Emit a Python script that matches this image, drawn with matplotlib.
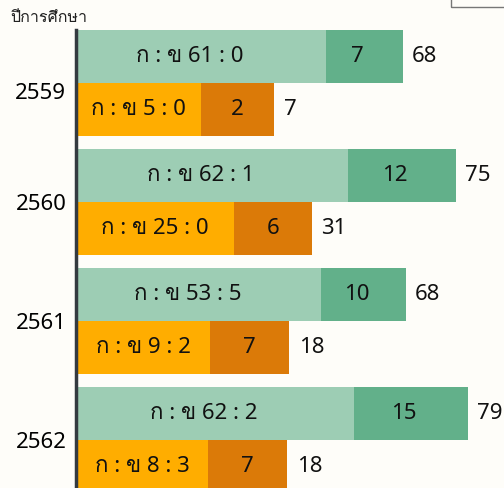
import matplotlib
matplotlib.use("Agg")
import matplotlib.pyplot as plt
from matplotlib.patches import Rectangle
from matplotlib.transforms import ScaledTranslation

# data
years = ["2559", "2560", "2561", "2562"]
green_a = [61, 62, 53, 62]
green_b = [0, 1, 5, 2]
green_extra = [7, 12, 10, 15]
green_total = [68, 75, 68, 79]
orange_a = [5, 25, 9, 8]
orange_b = [0, 0, 2, 3]
orange_extra = [2, 6, 7, 7]
orange_total = [7, 31, 18, 18]

# segment lengths as drawn in the picture (% of plot width)
green_len1 = [58.4, 63.6, 57.2, 65.0]
green_len2 = [18.0, 25.2, 19.9, 26.5]
orange_len1 = [29.2, 36.9, 31.3, 30.8]
orange_len2 = [17.1, 18.2, 18.5, 18.5]

# Noto Sans for latin/digits, Loma for the Thai glyphs
plt.rcParams["font.family"] = ["Noto Sans", "Loma", "DejaVu Sans"]

bg = "#fefdf9"
c_g1, c_g2 = "#9dcdb4", "#62b08a"
c_o1, c_o2 = "#ffad00", "#db7a08"
fs = 16

fig = plt.figure(figsize=(5.04, 4.88), dpi=100, facecolor=bg)
ax = fig.add_axes([76 / 504, 0, 1 - 76 / 504, 1 - 30 / 488])
ax.set_facecolor(bg)

h = 0.445
for i in range(len(years)):
    yg = i - h / 2
    yo = i + h / 2
    ax.barh(yg, green_len1[i], height=h, color=c_g1)
    ax.barh(yg, green_len2[i], left=green_len1[i], height=h, color=c_g2)
    ax.barh(yo, orange_len1[i], height=h, color=c_o1)
    ax.barh(yo, orange_len2[i], left=orange_len1[i], height=h, color=c_o2)

    kw = dict(va="center", ha="center", fontsize=fs, color="#111111")
    ax.annotate(f"ก : ข {green_a[i]} : {green_b[i]}", (green_len1[i] / 2, yg),
                xytext=(-8, 0), textcoords="offset points", **kw)
    ax.annotate(str(green_extra[i]), (green_len1[i] + green_len2[i] / 2, yg),
                xytext=(-5, 0), textcoords="offset points", **kw)
    ax.annotate(f"ก : ข {orange_a[i]} : {orange_b[i]}", (orange_len1[i] / 2, yo), **kw)
    ax.annotate(str(orange_extra[i]), (orange_len1[i] + orange_len2[i] / 2, yo), **kw)
    kw["ha"] = "left"
    ax.annotate(str(green_total[i]), (green_len1[i] + green_len2[i], yg),
                xytext=(6.5, 0), textcoords="offset points", **kw)
    ax.annotate(str(orange_total[i]), (orange_len1[i] + orange_len2[i], yo),
                xytext=(7, 0), textcoords="offset points", **kw)

ax.set_xlim(0, 100)
ax.set_ylim(3.404, -0.445)
ax.set_xticks([])
ax.set_yticks(range(len(years)))
ax.set_yticklabels(years, fontsize=fs)
ax.tick_params(axis="y", length=0, pad=7)
# first year label sits a little lower in the original
lbl = ax.get_yticklabels()[0]
lbl.set_transform(lbl.get_transform() + ScaledTranslation(0, -0.08, fig.dpi_scale_trans))
for s in ["top", "right", "bottom"]:
    ax.spines[s].set_visible(False)
ax.spines["left"].set_color("#343a40")
ax.spines["left"].set_linewidth(2.5)

fig.text(10 / 504, 1 - 18 / 488, "ปีการศึกษา", fontsize=11.5, color="#222222", va="center")
fig.add_artist(Rectangle((451 / 504, 1 - 7 / 488), 0.2, 0.2, transform=fig.transFigure,
                         fill=False, edgecolor="#777777", linewidth=1))

fig.savefig("out.png", dpi=100, facecolor=bg)
